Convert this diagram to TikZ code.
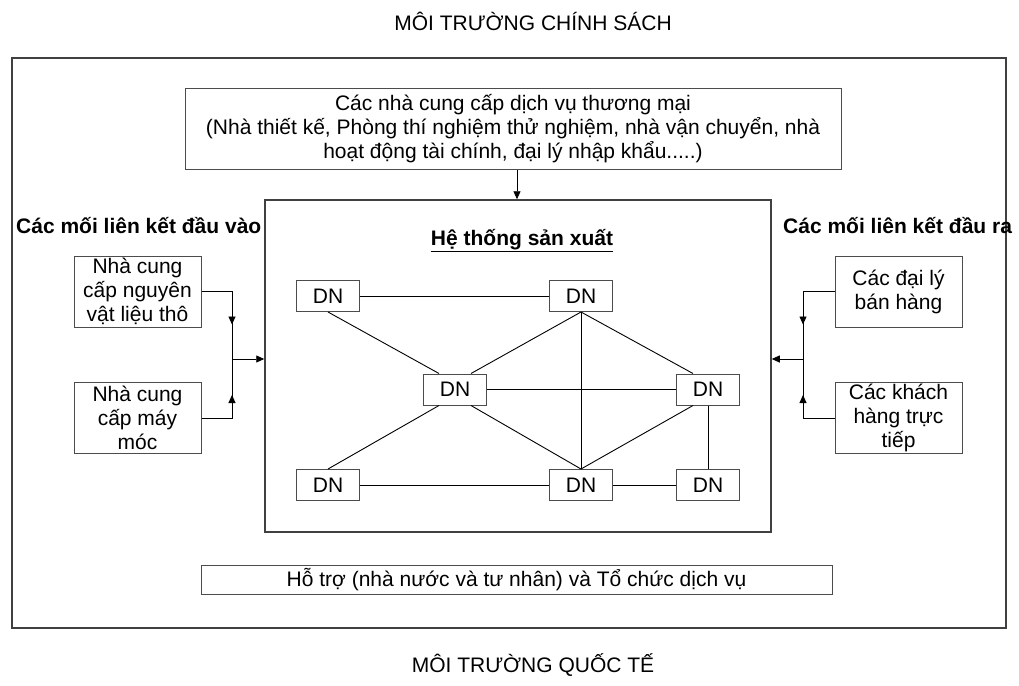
\documentclass[tikz,border=0pt]{standalone}
\usepackage{fontspec}
\setmainfont{Liberation Sans}
\usetikzlibrary{arrows.meta,calc}

\tikzset{
  frame/.style={draw=black!75, line width=1.5pt},
  box/.style={draw=black!70, line width=1pt, fill=white, inner sep=0pt, align=center},
  dn/.style={box, minimum width=63pt, minimum height=31pt},
  side/.style={box, minimum width=127pt, minimum height=71pt},
  link/.style={draw=black, line width=0.9pt},
  arr/.style={link, -{Triangle[length=8pt,width=7pt]}},
  heading/.style={inner sep=0pt, font=\fontsize{21}{24}\selectfont\bfseries},
}

\begin{document}
\begin{tikzpicture}[x=1pt, y=-1pt, font=\fontsize{21}{24}\selectfont]
\useasboundingbox (0,0) rectangle (1019,685);

% environment titles
\node[inner sep=0pt] (policy) at (533,21) {MÔI TRƯỜNG CHÍNH SÁCH};
\node[inner sep=0pt] (intl) at (533,665) {MÔI TRƯỜNG QUỐC TẾ};

% outer frame
\node[frame, inner sep=0pt, minimum width=994pt, minimum height=570pt] (outer) at (509,343) {};

% commercial service providers
\node[box, minimum width=656pt, minimum height=81pt] (services) at (513,128.5)
  {Các nhà cung cấp dịch vụ thương mại\\
   (Nhà thiết kế, Phòng thí nghiệm thử nghiệm, nhà vận chuyển, nhà\\
   hoạt động tài chính, đại lý nhập khẩu.....)};

% production system
\node[frame, inner sep=0pt, minimum width=506pt, minimum height=332pt] (system) at (518,366) {};
\node[heading] (systitle) at (522,241) {\underline{Hệ thống sản xuất}};

\draw[arr] (services.south -| 517,0) -- (system.north -| 517,0);

% firms
\node[dn] (tl) at (328,296) {DN};
\node[dn] (tm) at (581,296) {DN};
\node[dn] (ml) at (455,389.5) {DN};
\node[dn] (mr) at (708,389.5) {DN};
\node[dn] (bl) at (328,485) {DN};
\node[dn] (bm) at (581,485) {DN};
\node[dn] (br) at (708,485) {DN};

\draw[link] (tl.east) -- (tm.west);
\draw[link] (tl.south) -- ([xshift=-16pt]ml.north);
\draw[link] ([xshift=16pt]ml.north) -- (tm.south);
\draw[link] (tm.south) -- ([xshift=-15pt]mr.north);
\draw[link] (tm.south) -- (bm.north);
\draw[link] (ml.east) -- (mr.west);
\draw[link] ([xshift=-16pt]ml.south) -- (bl.north);
\draw[link] ([xshift=16pt]ml.south) -- (bm.north);
\draw[link] ([xshift=-15pt]mr.south) -- (bm.north);
\draw[link] (mr.south) -- (br.north);
\draw[link] (bl.east) -- (bm.west);
\draw[link] (bm.east) -- (br.west);

% input linkages
\node[heading, anchor=west] (inlabel) at (16,226) {Các mối liên kết đầu vào};
\node[side] (raw) at (137.5,291.5) {Nhà cung\\cấp nguyên\\vật liệu thô};
\node[side] (mach) at (137.5,418) {Nhà cung\\cấp máy\\móc};
\coordinate (jin) at (232,359);
\draw[link] (raw.east) -| (jin);
\draw[link] (mach.east) -| (jin);
\draw[arr] (raw.east -| jin) -- ++(0,33);
\draw[arr] (mach.east -| jin) -- ++(0,-23);
\draw[arr] (jin) -- (jin -| system.west);

% output linkages
\node[heading, anchor=west] (outlabel) at (783,226) {Các mối liên kết đầu ra};
\node[side] (agents) at (898.5,291.5) {Các đại lý\\bán hàng};
\node[side] (buyers) at (898.5,418) {Các khách\\hàng trực\\tiếp};
\coordinate (jout) at (803,359);
\draw[link] (agents.west) -| (jout);
\draw[link] (buyers.west) -| (jout);
\draw[arr] (agents.west -| jout) -- ++(0,33);
\draw[arr] (buyers.west -| jout) -- ++(0,-23);
\draw[arr] (jout) -- (jout -| system.east);

% support services
\node[box, minimum width=631pt, minimum height=29pt] (support) at (516.5,579.5)
  {Hỗ trợ (nhà nước và tư nhân) và Tổ chức dịch vụ};
\end{tikzpicture}
\end{document}
